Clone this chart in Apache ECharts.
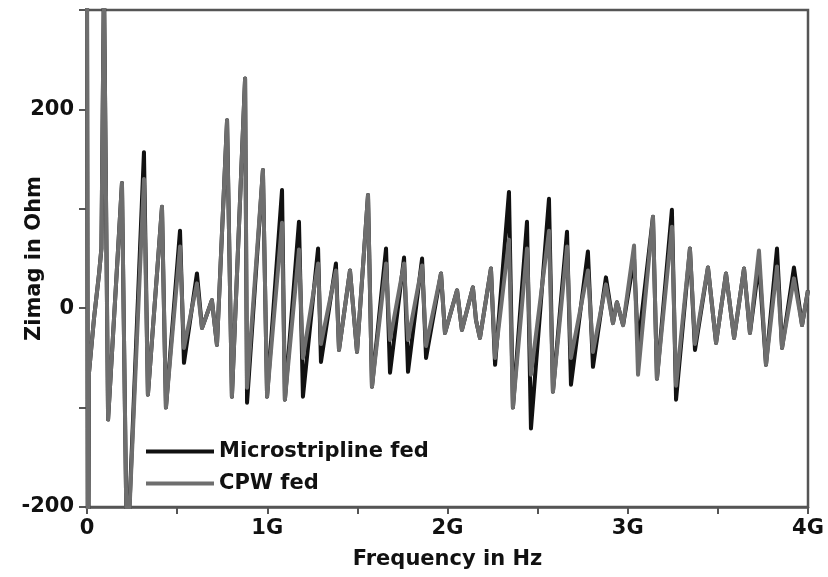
<!DOCTYPE html>
<html>
<head>
<meta charset="utf-8">
<script src="https://cdn.jsdelivr.net/npm/echarts@6/dist/echarts.min.js"></script>
<style>
  html, body { margin: 0; padding: 0; background: #fff; }
  #chart { width: 828px; height: 577px; }
</style>
</head>
<body>
<div id="chart"></div>
<script>
// frecuencia en GHz (eje x)
const freqGHz = [
  0, 0.006, 0.011, 0.039, 0.067, 0.080, 0.094, 0.117, 0.194, 0.222,
  0.316, 0.338, 0.416, 0.438, 0.516, 0.538, 0.610, 0.638, 0.693, 0.721,
  0.777, 0.804, 0.877, 0.888, 0.976, 0.999, 1.082, 1.098, 1.176, 1.198,
  1.282, 1.298, 1.381, 1.398, 1.459, 1.498, 1.559, 1.581, 1.659, 1.681,
  1.759, 1.781, 1.859, 1.881, 1.964, 1.986, 2.053, 2.080, 2.141, 2.158,
  2.180, 2.241, 2.264, 2.341, 2.363, 2.441, 2.463, 2.563, 2.585, 2.663,
  2.685, 2.779, 2.807, 2.879, 2.918, 2.940, 2.974, 3.035, 3.057, 3.140,
  3.162, 3.245, 3.268, 3.345, 3.373, 3.445, 3.490, 3.545, 3.590, 3.645,
  3.678, 3.728, 3.767, 3.828, 3.856, 3.922, 3.967, 4.000
];

// Zimag (Ohm) - alimentacion microstrip
const microstrip = [
  330, -330, -65, -10, 35, 60, 330, -112, 126, -260,
  157, -87, 102, -100, 78, -55, 35, -20, 8, -37,
  189, -89, 231, -95, 139, -89, 119, -92, 87, -89,
  60, -54, 45, -42, 38, -44, 114, -79, 60, -65,
  51, -64, 50, -50, 35, -25, 18, -22, 21, -12,
  -30, 40, -57, 117, -100, 87, -121, 110, -84, 77,
  -77, 57, -59, 31, -15, 6, -17, 50, -39, 92,
  -71, 99, -92, 60, -42, 41, -35, 35, -30, 40,
  -25, 45, -57, 60, -40, 41, -17, 18
];

// Zimag (Ohm) - alimentacion CPW
const cpw = [
  330, -330, -65, -10, 35, 60, 330, -112, 126, -260,
  130, -87, 102, -100, 62, -40, 25, -20, 8, -37,
  189, -89, 231, -80, 139, -89, 86, -92, 59, -50,
  45, -36, 38, -42, 38, -44, 114, -79, 45, -32,
  45, -32, 43, -38, 35, -25, 18, -22, 21, -12,
  -30, 40, -50, 69, -100, 60, -67, 78, -84, 62,
  -50, 38, -44, 24, -15, 6, -17, 63, -67, 92,
  -71, 82, -78, 60, -36, 41, -35, 35, -30, 40,
  -25, 58, -57, 42, -40, 30, -17, 18
];

const seriesNames = ['Microstripline fed', 'CPW fed'];
const seriesColors = ['#111111', '#6e6e6e'];

const FONT = 'DejaVu Sans';
const chart = echarts.init(document.getElementById('chart'));

const toPairs = vals => freqGHz.map((f, i) => [f, vals[i]]);

const option = {
  backgroundColor: '#fff',
  animation: false,
  grid: {
    left: 87, right: 20, top: 10, bottom: 70,
    outerBoundsMode: 'none', containLabel: false,
    show: true, borderColor: '#555', borderWidth: 2.5, backgroundColor: 'transparent'
  },
  legend: {
    orient: 'vertical',
    left: 141, top: 436,
    icon: 'rect',
    itemWidth: 68, itemHeight: 4,
    itemGap: 11,
    textStyle: { fontFamily: FONT, fontWeight: 'bold', fontSize: 21, color: '#111' },
    data: seriesNames
  },
  xAxis: {
    type: 'value',
    min: 0, max: 4, interval: 0.5,
    name: 'Frequency in Hz',
    nameLocation: 'middle',
    nameGap: 42,
    nameMoveOverlap: false,
    nameTextStyle: { fontFamily: FONT, fontWeight: 'bold', fontSize: 21, color: '#111' },
    axisLine: { onZero: false, lineStyle: { color: '#555', width: 2.5 } },
    axisTick: { inside: false, length: 7, lineStyle: { color: '#555', width: 2 } },
    axisLabel: {
      fontFamily: FONT, fontWeight: 'bold', fontSize: 21, color: '#111', margin: 11,
      formatter: v => (v % 1 !== 0 ? '' : (v === 0 ? '0' : v + 'G'))
    },
    splitLine: { show: false }
  },
  yAxis: {
    type: 'value',
    min: -200, max: 300, interval: 100,
    name: 'Zimag in Ohm',
    nameLocation: 'middle',
    nameGap: 42,
    nameMoveOverlap: false,
    nameTextStyle: { fontFamily: FONT, fontWeight: 'bold', fontSize: 21, color: '#111' },
    axisLine: { lineStyle: { color: '#555', width: 2.5 } },
    axisTick: { inside: false, length: 8, lineStyle: { color: '#555', width: 2 } },
    axisLabel: {
      fontFamily: FONT, fontWeight: 'bold', fontSize: 21, color: '#111', margin: 13,
      formatter: v => (v % 200 === 0 ? String(v) : '')
    },
    splitLine: { show: false }
  },
  series: [
    {
      name: seriesNames[0], type: 'line', data: toPairs(microstrip),
      showSymbol: false, clip: true, color: seriesColors[0],
      lineStyle: { color: seriesColors[0], width: 4, join: 'round' }, z: 2
    },
    {
      name: seriesNames[1], type: 'line', data: toPairs(cpw),
      showSymbol: false, clip: true, color: seriesColors[1],
      lineStyle: { color: seriesColors[1], width: 4, join: 'round' }, z: 3
    }
  ]
};

chart.setOption(option);
</script>
</body>
</html>
